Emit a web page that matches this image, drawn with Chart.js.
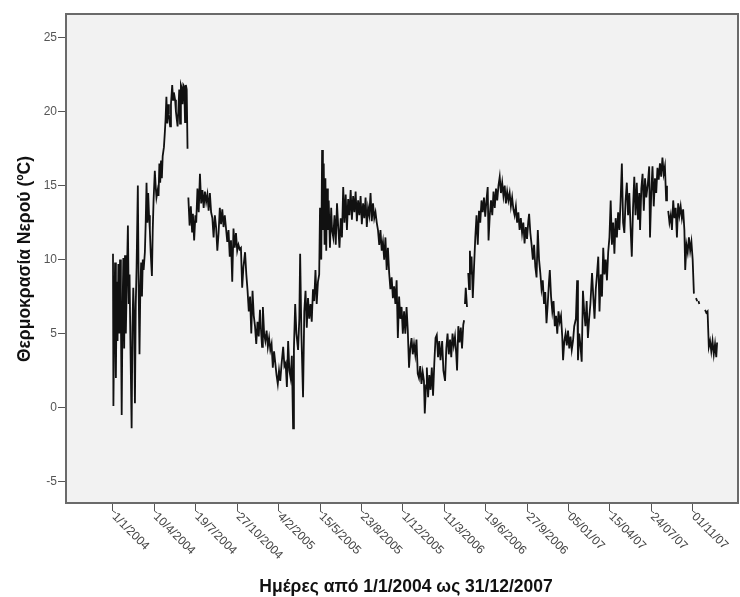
<!DOCTYPE html>
<html>
<head>
<meta charset="utf-8">
<script src="https://cdn.jsdelivr.net/npm/chart.js@4/dist/chart.umd.min.js"></script>
<style>
html,body{margin:0;padding:0;background:#fff;}
canvas{display:block;}
</style>
</head>
<body>
<canvas id="c" width="740" height="597"></canvas>
<script>
// Day index counted from 1/1/2004 (day 0); null = missing readings
const days = [
0,1,3,5,7,9,11,13,15,17,19,21,23,25,27,29,31,33,36,38,40,42,45,47,49,51,53,55,57,60,62,64,66,68,70,72,74,77,79,81,83,85,87,89,91,94,96,98,101,103,105,108,110,112,114,116,118,120,123,125,127,129,131,133,135,138,140,143,145,147,150,152,154,156,158,160,162,164,166,168,170,172,174,176,178,180,181,
182,185,188,191,193,196,199,201,204,207,210,213,216,219,222,225,228,231,234,237,240,243,246,249,252,255,258,261,264,267,270,273,276,279,282,285,288,291,294,297,300,303,306,309,312,315,319,322,325,328,331,334,337,340,343,346,349,352,355,358,360,362,365,368,371,374,377,380,383,386,389,392,395,398,401,404,407,411,414,417,420,423,426,429,432,435,437,440,443,447,450,452,455,459,462,465,468,471,474,477,480,483,486,489,492,495,498,500,503,505,507,509,511,513,515,517,519,521,524,527,529,532,535,538,541,544,547,550,553,556,559,562,565,568,571,574,577,580,583,586,589,592,595,598,601,604,607,610,613,616,619,622,625,628,631,634,637,640,643,646,649,652,655,658,661,664,667,670,673,676,679,682,685,688,691,694,697,700,703,706,709,712,715,718,721,724,727,730,733,736,739,742,745,748,751,753,756,758,761,764,767,770,773,776,779,782,785,788,791,795,798,802,805,808,811,814,817,820,823,826,829,831,834,837,840,843,846,848,849,
850,852,855,856,858,860,862,864,866,869,872,875,878,881,884,887,890,893,896,899,902,905,907,910,913,916,919,922,925,928,931,934,937,940,943,946,949,952,955,958,961,964,967,970,973,976,979,982,985,988,991,994,997,1000,1003,1005,1008,1011,1014,1017,1020,1023,1026,1029,1032,1035,1038,1041,1044,1047,1050,1053,1055,1058,1061,1064,1067,1070,1073,1076,1079,1082,1085,1087,1090,1093,1096,1099,1102,1105,1108,1111,1114,1118,1121,1123,1126,1129,1132,1135,1138,1141,1144,1147,1150,1153,1157,1160,1163,1166,1169,1172,1175,1178,1181,1184,1187,1190,1193,1196,1199,1202,1205,1208,1211,1214,1217,1220,1223,1226,1229,1232,1235,1238,1241,1244,1247,1250,1253,1256,1259,1262,1265,1268,1271,1273,1276,1279,1282,1285,1288,1292,1295,1297,1300,1303,1306,1309,1312,1315,1318,1321,1324,1327,1330,1333,1336,1338,1339,
1341,1344,1347,1350,1353,1356,1359,1362,1365,1368,1371,1374,1377,1380,1382,1385,1388,1391,1394,1397,1400,1403,1405,1408,1411,1413,1414,1416,1418,1430,1433,1436,1439,1442,1445,1448,1451,1454,1457,1459
];
const temps = [
10.4,0.1,6.0,9.8,2.0,8.5,4.5,9.7,5.0,10.0,6.5,-0.5,6.5,10.1,4.0,10.3,5.0,8.0,12.3,7.0,9.0,4.5,-1.4,5.5,8.1,6.0,0.3,7.0,9.5,15.0,8.0,3.6,8.0,9.8,7.5,10.0,9.3,10.5,12.5,15.2,12.5,14.5,13.0,12.0,10.5,8.9,12.0,14.0,16.0,15.0,14.2,14.7,14.3,16.5,15.2,16.7,15.5,17.0,17.6,18.5,19.5,21.0,19.2,20.5,19.8,19.0,20.5,21.8,20.8,21.3,20.8,20.0,19.5,19.0,20.2,21.5,19.2,21.8,21.6,20.5,21.8,21.7,19.3,21.8,21.5,17.5,null,
14.2,12.3,13.6,11.9,13.1,11.3,13.0,12.5,14.8,13.2,15.8,13.8,14.7,13.5,14.6,13.9,14.4,13.3,14.5,13.2,12.8,11.5,13.0,12.2,10.6,11.8,13.5,12.4,13.4,12.2,13.0,12.1,11.2,12.0,10.2,11.3,8.5,12.1,10.8,11.8,10.6,11.0,10.7,10.8,8.1,9.5,10.5,9.0,7.9,6.5,7.5,5.0,7.9,6.2,5.5,4.3,5.8,4.8,6.6,5.0,4.1,6.8,5.0,4.5,5.2,4.1,4.7,3.9,4.3,2.7,3.8,3.0,2.2,1.6,2.5,1.8,2.9,4.1,2.8,3.0,1.4,4.5,2.5,2.0,3.5,-1.4,4.0,7.0,5.0,3.9,6.0,10.4,5.0,0.7,6.5,7.9,5.4,7.4,6.0,7.0,5.8,8.0,7.2,9.3,7.0,8.5,9.0,13.5,10.0,17.4,12.0,16.5,11.0,15.5,10.6,14.8,12.0,14.0,10.8,13.5,12.0,11.5,13.0,11.0,13.8,12.2,10.8,12.8,11.5,14.9,12.5,14.4,12.0,14.1,13.0,14.7,12.7,14.3,13.2,14.6,12.6,14.0,13.0,14.3,12.4,13.8,12.8,14.2,12.2,13.5,13.0,14.5,12.6,13.8,12.8,13.2,12.5,12.0,11.0,12.0,10.6,11.2,10.0,11.5,9.3,10.8,9.1,8.0,8.8,7.4,8.2,7.0,8.6,4.7,7.5,6.0,6.8,5.0,6.5,5.0,6.8,5.2,2.7,4.0,4.7,3.6,4.3,3.6,4.6,2.3,2.0,2.8,1.6,2.4,1.8,-0.4,1.5,2.7,0.7,2.2,1.2,2.7,0.8,3.0,4.7,4.9,3.4,4.5,3.2,4.5,2.5,1.8,4.0,5.0,3.6,4.6,3.4,5.0,4.2,4.8,3.6,2.5,5.5,4.4,5.4,4.0,5.6,5.9,null,
7.0,8.1,6.8,null,9.1,8.0,10.6,9.0,10.2,7.4,9.5,11.5,13.0,11.0,13.3,12.5,14.0,13.2,14.2,12.9,14.0,14.9,11.3,13.0,14.0,13.0,14.6,13.5,14.8,14.0,15.0,15.6,14.5,15.2,14.3,15.0,13.8,14.6,14.0,14.5,13.6,14.2,13.4,13.0,13.6,12.5,13.2,12.0,12.8,11.8,12.5,11.1,12.2,11.4,12.6,13.1,11.8,11.0,10.0,11.0,9.5,8.8,12.0,10.0,9.1,8.0,8.6,7.0,7.8,5.7,7.0,8.5,9.3,7.5,6.5,7.2,5.5,6.2,5.0,6.5,5.8,6.2,4.8,3.2,4.5,5.0,4.2,5.2,4.0,4.8,3.9,4.5,5.5,6.0,8.6,3.2,5.0,4.2,3.1,7.9,6.5,5.5,7.2,4.7,6.0,7.0,9.1,7.5,6.0,8.0,9.0,10.2,6.5,9.0,7.5,10.8,9.0,10.0,8.6,10.5,11.5,14.0,11.0,12.5,10.4,12.8,11.5,13.2,12.0,14.0,16.5,12.5,11.8,14.0,15.2,13.0,14.5,12.2,10.2,13.5,15.6,13.0,15.2,12.7,14.5,12.0,14.8,15.8,13.3,15.5,14.2,15.2,16.3,11.5,14.5,16.3,13.6,15.5,14.5,16.2,15.4,16.5,15.6,16.9,15.8,16.3,14.0,15.0,null,
13.3,12.5,13.0,12.0,14.0,12.8,13.5,11.5,13.8,13.0,13.6,12.8,13.4,12.0,9.3,11.0,10.5,11.5,10.6,11.2,10.0,7.7,null,7.4,7.2,null,7.2,7.0,null,6.6,6.4,6.5,4.1,4.5,3.8,4.5,3.6,4.3,3.4,4.4
];
const xTickDays = [0,100,200,300,400,500,600,700,800,900,1000,1100,1200,1300,1400];
const xTickLabels = ["1/1/2004","10/4/2004","19/7/2004","27/10/2004","4/2/2005","15/5/2005","23/8/2005","1/12/2005","11/3/2006","19/6/2006","27/9/2006","05/01/07","15/04/07","24/07/07","01/11/07"];
const yTitle = "Θερμοκρασία Νερού (ºC)";
const xTitle = "Ημέρες από 1/1/2004 ως 31/12/2007";

const points = days.map((d, i) => ({x: d, y: temps[i]}));

const framePlugin = {
  id: 'frame',
  beforeDraw(chart) {
    const {ctx, chartArea: a} = chart;
    ctx.save();
    ctx.fillStyle = '#ffffff';
    ctx.fillRect(0, 0, chart.width, chart.height);
    ctx.fillStyle = '#f2f2f2';
    ctx.fillRect(a.left, a.top, a.right - a.left, a.bottom - a.top);
    ctx.restore();
  },
  afterDraw(chart) {
    const {ctx, chartArea: a} = chart;
    const xs = chart.scales.x;
    ctx.save();
    ctx.strokeStyle = '#6a6a6a';
    ctx.lineWidth = 2;
    ctx.strokeRect(a.left, a.top, a.right - a.left, a.bottom - a.top);
    // rotated x tick labels
    ctx.fillStyle = '#444';
    ctx.font = '12px "Liberation Sans", Arial, sans-serif';
    ctx.textAlign = 'left';
    ctx.textBaseline = 'middle';
    xTickDays.forEach((d, i) => {
      const px = xs.getPixelForValue(d);
      ctx.strokeStyle = '#555';
      ctx.lineWidth = 1;
      ctx.beginPath();
      ctx.moveTo(px, a.bottom + 8);
      ctx.lineTo(px + 3, a.bottom + 10);
      ctx.stroke();
      ctx.save();
      ctx.translate(px + 1, a.bottom + 12);
      ctx.rotate(Math.PI / 4);
      ctx.fillText(xTickLabels[i], 0, 0);
      ctx.restore();
    });
    // titles
    ctx.fillStyle = '#111';
    ctx.font = 'bold 17.5px "Liberation Sans", Arial, sans-serif';
    ctx.textAlign = 'center';
    ctx.textBaseline = 'alphabetic';
    ctx.fillText(xTitle, 406, 592);
    ctx.save();
    ctx.translate(30, 259);
    ctx.rotate(-Math.PI / 2);
    ctx.fillText(yTitle, 0, 0);
    ctx.restore();
    ctx.restore();
  }
};

new Chart(document.getElementById('c'), {
  type: 'line',
  data: {
    datasets: [{
      data: points,
      borderColor: '#111',
      borderWidth: 1.8,
      pointRadius: 0,
      tension: 0,
      spanGaps: false,
      fill: false
    }]
  },
  options: {
    responsive: false,
    animation: false,
    layout: {padding: {top: 14, right: 2, left: 0, bottom: 0}},
    plugins: {legend: {display: false}, tooltip: {enabled: false}},
    scales: {
      x: {
        type: 'linear',
        min: -113.5,
        max: 1509.5,
        afterBuildTicks(scale) { scale.ticks = xTickDays.map(v => ({value: v})); },
        afterFit(scale) { scale.height = 94; },
        ticks: {display: false},
        border: {display: false},
        grid: {drawOnChartArea: false, drawTicks: true, tickLength: 8, color: '#555', lineWidth: 1}
      },
      y: {
        min: -6.45,
        max: 26.6,
        afterFit(scale) { scale.width = 66; },
        ticks: {stepSize: 5, includeBounds: false, color: '#555', padding: 1,
                font: {size: 12, family: '"Liberation Sans", Arial, sans-serif'}},
        border: {display: false},
        grid: {drawOnChartArea: false, drawTicks: true, tickLength: 8, color: '#555', lineWidth: 1}
      }
    }
  },
  plugins: [framePlugin]
});
</script>
</body>
</html>
